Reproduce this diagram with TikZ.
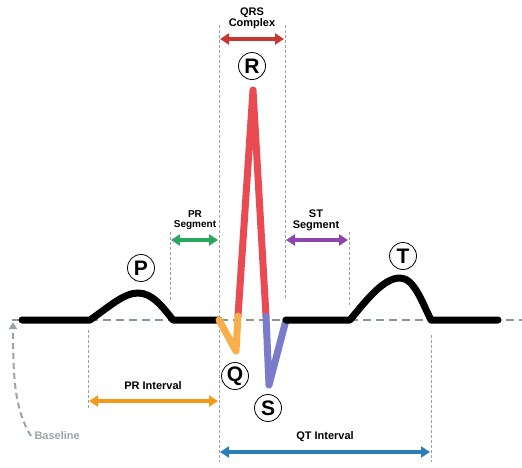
\documentclass[tikz,border=0pt]{standalone}
\usepackage{fontspec}
\setmainfont{Liberation Sans}
\usetikzlibrary{arrows.meta}
\definecolor{qrsred}{HTML}{C9382E}
\definecolor{rred}{HTML}{EA4B52}
\definecolor{qorange}{HTML}{F7AE4B}
\definecolor{sblue}{HTML}{7A7BCB}
\definecolor{prgreen}{HTML}{27A85C}
\definecolor{stpurple}{HTML}{8E44AD}
\definecolor{prorange}{HTML}{F29A1A}
\definecolor{qtblue}{HTML}{2A7FB8}
\definecolor{basegray}{HTML}{98A5A6}
\tikzset{
  guide/.style={draw=gray!75, line width=0.8pt, dash pattern=on 2.5pt off 2.5pt},
  wave/.style={line width=7pt, line cap=round, line join=round},
  span/.style={line width=4pt, {Triangle[length=9pt,width=11pt]}-{Triangle[length=9pt,width=11pt]}, shorten <=1pt, shorten >=1pt},
  lab/.style={font=\bfseries\fontsize{11}{12}\selectfont, align=center, text=black},
  letter/.style={circle, draw=black, line width=0.8pt, minimum size=27pt, inner sep=0pt, font=\bfseries\fontsize{21}{21}\selectfont}
}
\begin{document}
\begin{tikzpicture}[x=1pt,y=-1pt]
\useasboundingbox (0,0) rectangle (522,467);
% baseline
\draw[basegray!90!black, line width=1.2pt, dash pattern=on 8pt off 5pt] (12,320) -- (522,320);
% guide lines
\draw[guide] (219,25) -- (219,462);
\draw[guide] (285,25) -- (285,300);
\draw[guide] (170,232) -- (170,300);
\draw[guide] (349,232) -- (349,305);
\draw[guide] (88,330) -- (88,410);
\draw[guide] (431,335) -- (431,462);
% ECG
\draw[wave, black] (22,320) -- (90,320) .. controls (110,306) and (124,293) .. (138,293) .. controls (152,293) and (162,306) .. (173,320) -- (219,320);
\draw[wave, rred] (238,316) -- (253,90) -- (266,316);
\draw[wave, qorange] (219,320) -- (236,351) -- (238,316);
\draw[wave, sblue] (266,316) -- (269,385) -- (286,320);
\draw[wave, black] (286,320) -- (350,320) .. controls (368,298) and (384,278) .. (400,278) .. controls (414,278) and (422,302) .. (431,320) -- (498,320);
% letters
\node[letter] (P) at (141,268) {P};
\node[letter] (R) at (252,66) {R};
\node[letter] (Q) at (235,376) {Q};
\node[letter] (S) at (268,408) {S};
\node[letter] (T) at (403,256) {T};
% QRS complex
\coordinate (qrsL) at (219,39);
\coordinate (qrsR) at (285,39);
\draw[span, qrsred] (qrsL) -- (qrsR);
\node[lab] (qrs) at (252,18) {QRS\\[-1pt]Complex};
% PR segment
\coordinate (prsL) at (170,240);
\coordinate (prsR) at (219,240);
\draw[span, prgreen] (prsL) -- (prsR);
\node[lab, font=\bfseries\fontsize{10}{11}\selectfont] (prs) at (195,220) {PR\\[-1pt]Segment};
% ST segment
\coordinate (stL) at (285,240);
\coordinate (stR) at (349,240);
\draw[span, stpurple] (stL) -- (stR);
\node[lab] (st) at (316,220) {ST\\[-1pt]Segment};
% PR interval
\coordinate (priL) at (88,401);
\coordinate (priR) at (219,401);
\draw[span, prorange] (priL) -- (priR);
\node[lab] (pri) at (153,386) {PR Interval};
% QT interval
\coordinate (qtL) at (219,452);
\coordinate (qtR) at (431,452);
\draw[span, qtblue] (qtL) -- (qtR);
\node[lab] (qt) at (325,437) {QT Interval};
% Baseline label
\node[lab, text=basegray, anchor=west] (bl) at (31,436) {Baseline};
\coordinate (blend) at (13,322);
\draw[basegray, line width=2pt, dash pattern=on 6pt off 4pt, -{Triangle[length=7pt,width=8pt]}] (bl.west) .. controls (15,410) and (13,380) .. (blend);
\end{tikzpicture}
\end{document}
